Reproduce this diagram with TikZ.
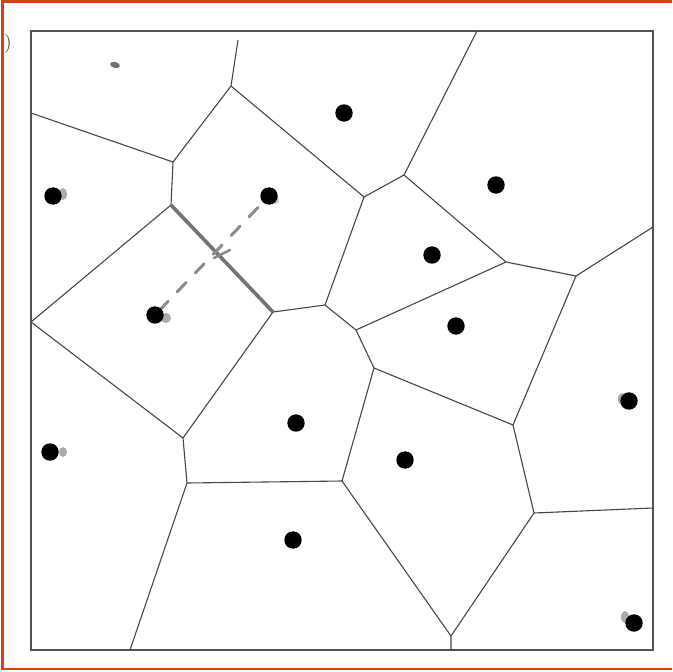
\documentclass[tikz,border=0pt]{standalone}
\begin{document}
\begin{tikzpicture}[x=1pt,y=-1pt,
  edge/.style={draw=black!72,line width=1.1pt},
  site/.style={fill=black},
  sitesh/.style={fill=black!55},
  frameline/.style={draw=black!68,line width=2.6pt}]
\useasboundingbox (0,0) rectangle (672,672);
\fill[white] (0,0) rectangle (672,672);
% outer orange frame (left, top, bottom)
\draw[draw={rgb,255:red,216;green,64;blue,16},line width=2.2pt] (672,1.5) -- (2.5,1.5) -- (2.5,669) -- (672,669);
\node[text=black!75,inner sep=0pt,scale=1.9] (lbl) at (8,44) {)};
% square
\coordinate (TL) at (31,31); \coordinate (BR) at (653,650);
\draw[frameline] (TL) rectangle (BR);
% vertices
\coordinate (A) at (238,40);
\coordinate (B) at (231,86);
\coordinate (C) at (173,162);
\coordinate (D) at (31,113);
\coordinate (E) at (171,205);
\coordinate (F) at (273,312);
\coordinate (G) at (325,305);
\coordinate (H) at (364,197);
\coordinate (I) at (404,175);
\coordinate (It) at (477,31);
\coordinate (J) at (506,262);
\coordinate (K) at (576,276);
\coordinate (Kr) at (653,227);
\coordinate (L) at (356,330);
\coordinate (N) at (183,438);
\coordinate (Dl) at (31,322);
\coordinate (O) at (187,483);
\coordinate (Ob) at (130,650);
\coordinate (P) at (374,368);
\coordinate (Q) at (513,425);
\coordinate (R) at (342,481);
\coordinate (S) at (451,636);
\coordinate (Sb) at (451,650);
\coordinate (T) at (534,513);
\coordinate (Tr) at (653,508);
% edges
\draw[edge] (A)--(B) (B)--(C) (C)--(D) (C)--(E) (E)--(Dl)
  (B)--(H) (H)--(G) (G)--(F) (H)--(I) (I)--(It) (I)--(J) (J)--(K) (K)--(Kr)
  (J)--(L) (G)--(L) (L)--(P) (P)--(Q) (Q)--(K) (P)--(R) (R)--(O) (O)--(N)
  (N)--(F) (N)--(Dl) (O)--(Ob) (R)--(S) (S)--(Sb) (S)--(T) (T)--(Q) (T)--(Tr);
\draw[draw=black!55,line width=3.6pt] (E)--(F);
% shadows of sites
\fill[sitesh,opacity=0.6] (63,194) ellipse (4 and 6);
\fill[sitesh,opacity=0.6] (166,318) ellipse (5 and 5);
\fill[sitesh,opacity=0.6] (63,452) ellipse (4 and 5);
\fill[sitesh,opacity=0.6] (622,399) ellipse (4 and 6);
\fill[sitesh,opacity=0.6] (625,617) ellipse (4 and 6);
\fill[sitesh,opacity=0.4] (275,200) ellipse (4 and 4);
\fill[black!55,rotate around={-15:(115,65)}] (115,65) ellipse (5 and 3);
% dashed connection
\coordinate (s6) at (155,315);
\coordinate (s4) at (269,196);
\draw[draw=black!45,line width=3pt,line cap=round,dash pattern=on 13pt off 13pt,dash phase=-6pt] (s6)--(s4);
\draw[draw=black!45,line width=2.5pt,line cap=round] (214,258)--(230,250);
% sites
\foreach \p in {(344,113),(496,185),(432,255),(456,326),
  (269,196),(53,196),(155,315),(296,423),(50,452),
  (293,540),(405,460),(629,401),(634,623)}
  \fill[site] \p circle (8.7pt);
\end{tikzpicture}
\end{document}
